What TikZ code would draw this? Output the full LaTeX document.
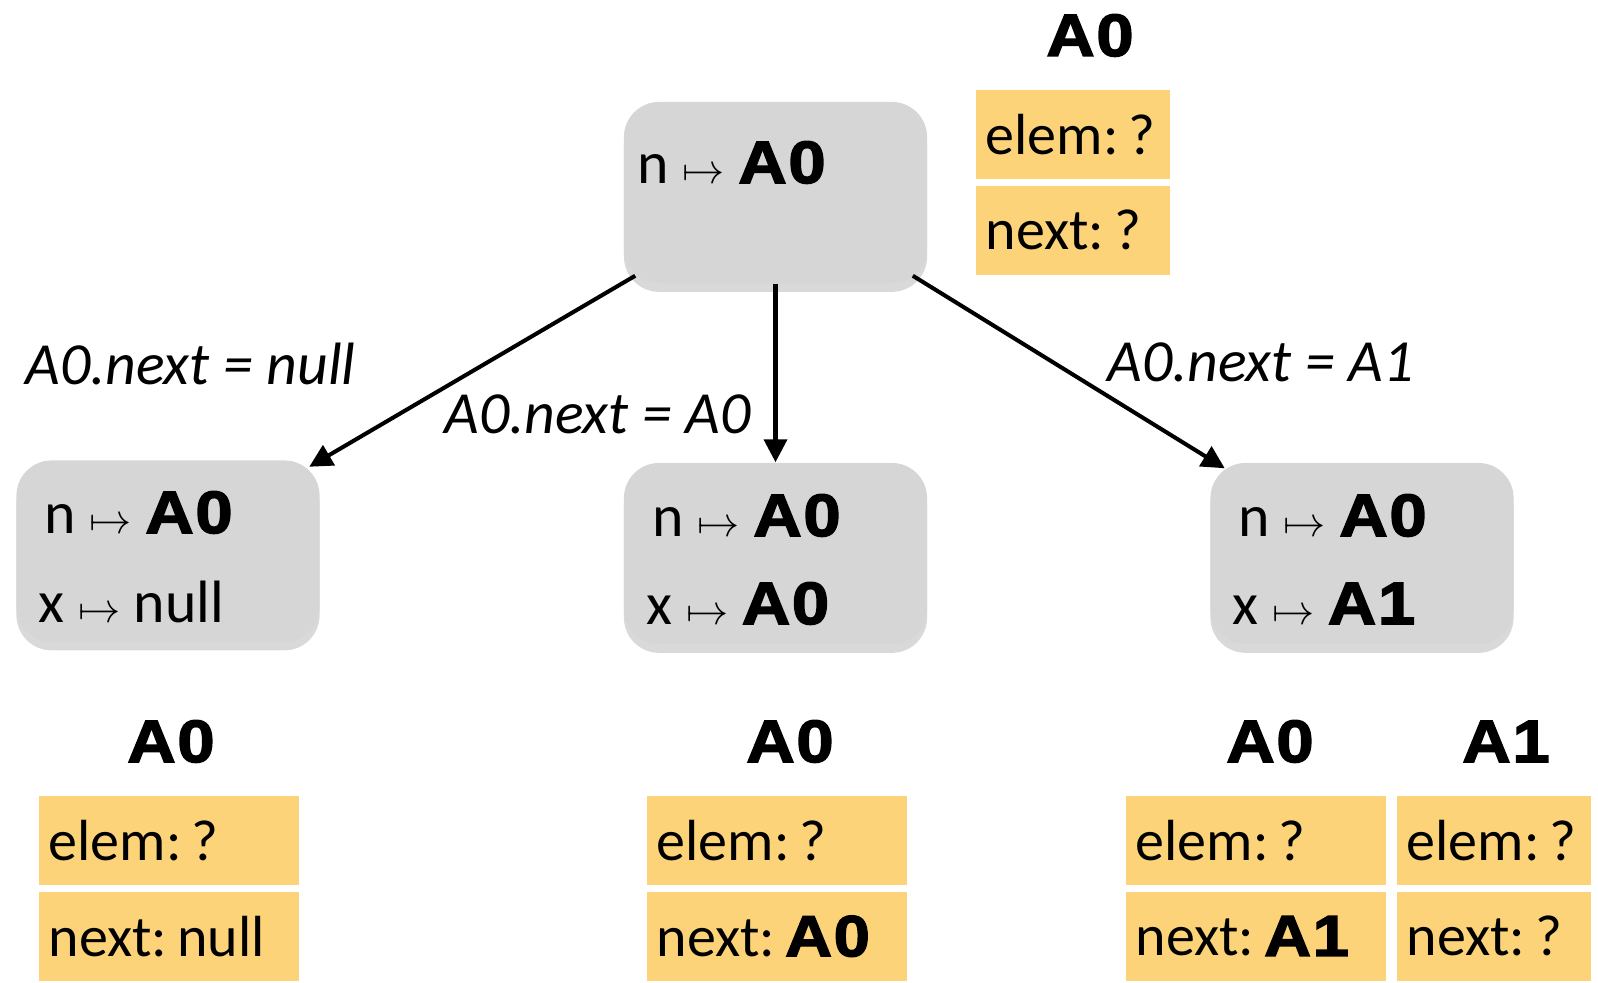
\documentclass[tikz,border=0pt]{standalone}
\usepackage{fontspec}
\setmainfont{Carlito}
\newfontfamily\hv{Liberation Sans}[UprightFont={* Bold}, UprightFeatures={FakeBold=2.5}, FakeStretch=1.12, LetterSpace=3]
\newcommand{\blk}[1]{{\hv #1}}
\newcommand{\maps}{${\scriptstyle\mapsto}$}
\usetikzlibrary{shadows,arrows.meta}
\definecolor{stategray}{RGB}{214,214,214}
\definecolor{heapyellow}{RGB}{253,211,122}

\begin{document}
\frenchspacing
\begin{tikzpicture}[x=0.01cm, y=-0.01cm,
	state/.style={fill=stategray, rounded corners=10pt, minimum width=3.03cm, minimum height=1.81cm, inner sep=0pt,
		drop shadow={shadow xshift=0pt, shadow yshift=-2.5pt, opacity=.3}},
	txt/.style={anchor=base west, inner sep=0pt, font=\fontsize{17}{20}\selectfont},
	lbl/.style={anchor=base west, inner sep=0pt, font=\fontsize{17}{20}\selectfont\itshape},
	hlabel/.style={anchor=base, inner sep=0pt, font=\hv\fontsize{17}{20}\selectfont},
	cell/.style={fill=heapyellow, anchor=north west, minimum height=0.89cm, inner xsep=0.1cm, inner ysep=0pt,
		align=left, font=\fontsize{16.5}{20}\selectfont},
	edge/.style={-{Triangle[length=6.5pt, width=6.5pt]}, line width=1.15pt}
]
	\useasboundingbox (0, 0) rectangle (1598, 982);

	% states
	\node[state] (s0) at (775.5, 192.5) {};
	\node[state] (s1) at (168, 551) {};
	\node[state] (s2) at (775.5, 553.5) {};
	\node[state] (s3) at (1362, 553.5) {};

	\node[txt] (s0a) at (637, 183) {n \maps\ \blk{A0}};
	\node[txt] (s1a) at (44, 533) {n \maps\ \blk{A0}};
	\node[txt] (s1b) at (38, 622) {x \maps\ null};
	\node[txt] (s2a) at (652, 536) {n \maps\ \blk{A0}};
	\node[txt] (s2b) at (646, 624) {x \maps\ \blk{A0}};
	\node[txt] (s3a) at (1238, 536) {n \maps\ \blk{A0}};
	\node[txt] (s3b) at (1232, 624) {x \maps\ \blk{A1}};

	% transitions
	\draw[edge] ([shift={(12,-8)}]s0.south west) -- ([shift={(-11,7)}]s1.north east);
	\draw[edge] (s0.south) -- (s2.north);
	\draw[edge] ([shift={(-15,-8)}]s0.south east) -- ([shift={(15,6)}]s3.north west);
	\node[lbl] (t1) at (25, 384) {A0.next = null};
	\node[lbl] (t2) at (444, 433) {A0.next = A0};
	\node[lbl] (t3) at (1107, 381) {A0.next = A1};

	% heaps
	\node[hlabel] (h0) at (1090, 56) {A0};
	\node[hlabel] (h1) at (171, 762) {A0};
	\node[hlabel] (h2) at (790, 762) {A0};
	\node[hlabel] (h3) at (1270, 762) {A0};
	\node[hlabel] (h4) at (1506, 762) {A1};
	\foreach \nm/\hx/\hy/\hw/\val in {h0/975/89/194/?, h1/38/795/260/null, h2/646/795/260/\blk{A0},
		h3/1125/795/260/\blk{A1}, h4/1396/795/194/?}
	{
		\pgfmathsetmacro\tw{(\hw-20)*0.01}
		\node[cell, text width=\tw cm] (\nm-e) at (\hx, \hy) {elem:\,?};
		\node[cell, text width=\tw cm] (\nm-n) at (\hx, \hy+96) {next:\,\val};
	}
\end{tikzpicture}
\end{document}
